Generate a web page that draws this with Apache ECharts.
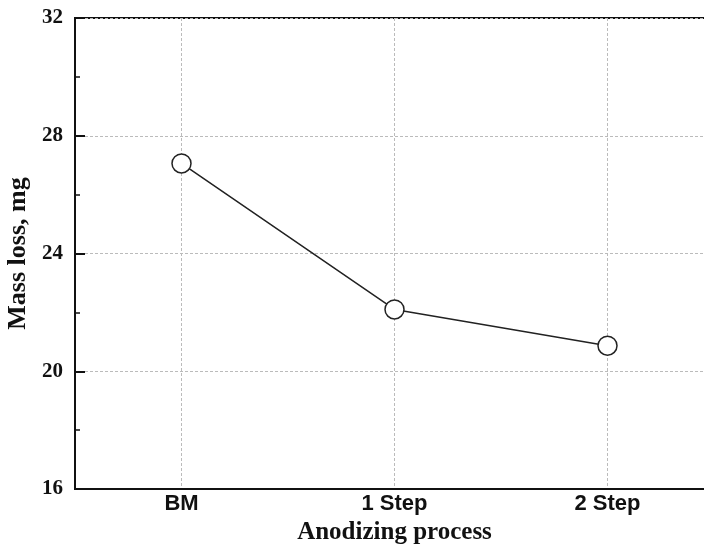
<!DOCTYPE html>
<html><head><meta charset="utf-8">
<script src="https://cdn.jsdelivr.net/npm/echarts@6/dist/echarts.min.js"></script>
<style>html,body{margin:0;padding:0;background:#fff}#c{width:704px;height:545px}</style>
</head><body><div id="c"></div>
<script>
const categories = ['BM', '1 Step', '2 Step'];
const massLoss = [27.06, 22.10, 20.87];
const yTicks = [16, 20, 24, 28, 32];

const chart = echarts.init(document.getElementById('c'));
const serif = '"Liberation Serif", "Times New Roman", serif';
const sans = '"Liberation Sans", Arial, sans-serif';
chart.setOption({
  animation: false,
  grid: { left: 75, top: 18, width: 639, height: 471, outerBoundsMode: 'none', containLabel: false, show: true, borderColor: '#111', borderWidth: 2, backgroundColor: 'transparent' },
  xAxis: [{
    type: 'category', data: categories, boundaryGap: true,
    name: 'Anodizing process', nameLocation: 'middle', nameGap: 28,
    nameTextStyle: { fontFamily: serif, fontWeight: 'bold', fontSize: 25, color: '#111' },
    axisLine: { lineStyle: { color: '#111', width: 2 } },
    axisTick: { alignWithLabel: true, inside: true, length: 9, lineStyle: { color: '#111', width: 2 } },
    axisLabel: { fontFamily: sans, fontWeight: 'bold', fontSize: 22, color: '#111', margin: 4 },
    splitLine: { show: true, alignWithLabel: true, lineStyle: { color: '#bbb', type: [3, 2], width: 1 } }
  }, {
    type: 'category', data: categories, boundaryGap: true, position: 'bottom',
    axisLine: { show: false },
    axisTick: { inside: true, length: 5, lineStyle: { color: '#111', width: 1.5 } },
    axisLabel: { show: false }, splitLine: { show: false }
  }],
  yAxis: {
    type: 'value', min: yTicks[0], max: yTicks[yTicks.length - 1], interval: 4,
    name: 'Mass loss, mg', nameLocation: 'middle', nameGap: 37, nameRotate: 90,
    nameTextStyle: { fontFamily: serif, fontWeight: 'bold', fontSize: 26, color: '#111' },
    axisLine: { show: true, lineStyle: { color: '#111', width: 2 } },
    axisTick: { show: true, inside: true, length: 10, lineStyle: { color: '#111', width: 2 } },
    minorTick: { show: true, splitNumber: 2, length: 5, lineStyle: { color: '#111', width: 1.5 } },
    axisLabel: { fontFamily: serif, fontWeight: 'bold', fontSize: 21, color: '#111', margin: 12 },
    splitLine: { show: true, lineStyle: { color: '#bbb', type: [3, 2], width: 1 } }
  },
  series: [{
    type: 'line', data: massLoss, xAxisIndex: 0,
    symbol: 'circle', symbolSize: 19,
    lineStyle: { color: '#222', width: 1.5 },
    itemStyle: { color: '#fff', borderColor: '#222', borderWidth: 1.5 },
    z: 5
  }]
});
</script></body></html>
